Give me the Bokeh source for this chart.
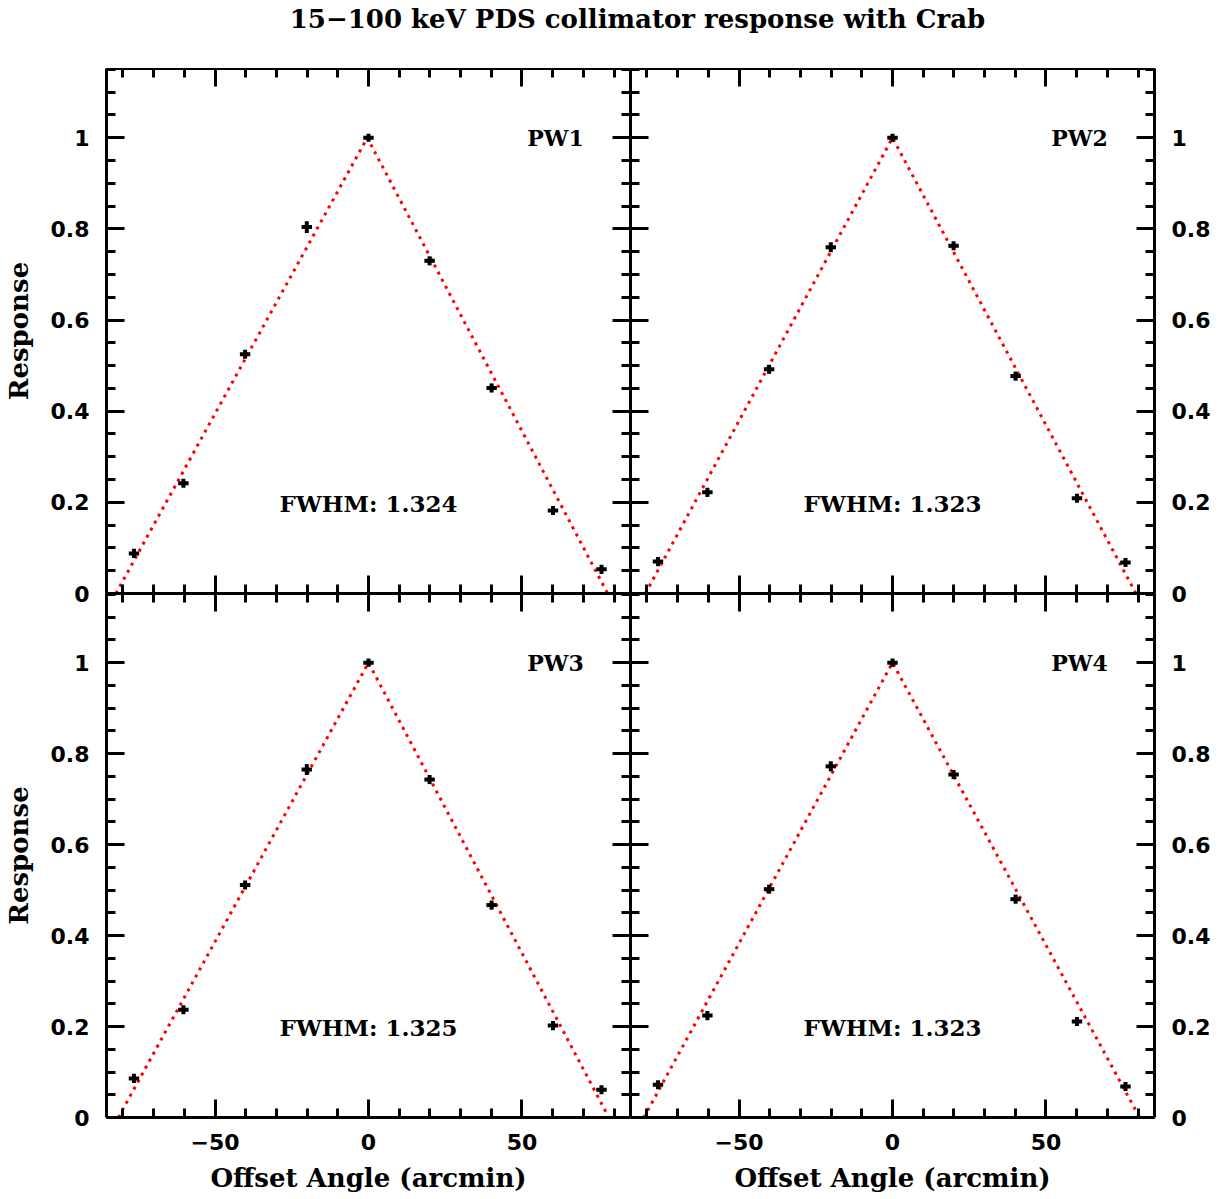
from bokeh.plotting import figure
from bokeh.models import Range1d, LinearAxis, FixedTicker, Label
from bokeh.layouts import gridplot, column
from bokeh.embed import file_html
from bokeh.resources import INLINE

# ---------------- data ----------------
offsets = [-76.4, -60.3, -40.2, -20.1, 0.0, 19.9, 40.1, 60.1, 75.9]
x_err = [1.7, 1.7, 1.7, 1.7, 1.7, 1.7, 1.7, 1.7, 1.7]

pw1_resp = [0.088, 0.242, 0.525, 0.804, 1.000, 0.730, 0.451, 0.182, 0.053]
pw2_resp = [0.070, 0.222, 0.492, 0.760, 1.000, 0.763, 0.477, 0.209, 0.068]
pw3_resp = [0.086, 0.237, 0.511, 0.765, 1.000, 0.743, 0.467, 0.202, 0.061]
pw4_resp = [0.072, 0.224, 0.502, 0.772, 1.000, 0.754, 0.480, 0.211, 0.068]

pw1_err = [0.010, 0.010, 0.010, 0.013, 0.009, 0.010, 0.010, 0.010, 0.010]
pw2_err = [0.010, 0.010, 0.010, 0.011, 0.009, 0.010, 0.010, 0.010, 0.010]
pw3_err = [0.010, 0.010, 0.010, 0.012, 0.009, 0.010, 0.010, 0.010, 0.010]
pw4_err = [0.010, 0.010, 0.010, 0.011, 0.009, 0.010, 0.010, 0.010, 0.010]

model_y = [0.0, 1.0, 0.0]
pw1_model_x = [-82.3, -0.4, 77.9]
pw2_model_x = [-80.5, 0.0, 79.3]
pw3_model_x = [-81.5, 0.0, 78.3]
pw4_model_x = [-81.0, 0.0, 80.5]

panel_names = ["PW1", "PW2", "PW3", "PW4"]
fwhm_labels = ["FWHM: 1.324", "FWHM: 1.323", "FWHM: 1.325", "FWHM: 1.323"]

x_major = [-50, 0, 50]
x_minor = [-80, -70, -60, -40, -30, -20, -10, 10, 20, 30, 40, 60, 70, 80]
y_major = [0.0, 0.2, 0.4, 0.6, 0.8, 1.0]
y_minor = [0.05, 0.1, 0.15, 0.25, 0.3, 0.35, 0.45, 0.5, 0.55, 0.65, 0.7,
           0.75, 0.85, 0.9, 0.95, 1.05, 1.1, 1.15]

title_text = "15\u2212100 keV PDS collimator response with Crab"
x_title = "Offset Angle (arcmin)"
y_title = "Response"

# ---------------- style ----------------
XR = (-85.35, 85.35)
YR = (0.0, 1.152)
FW = 524
LB, RB, BB = 99, 56, 75
OVL = 12          # overlap so that the shared "0" labels are not clipped
TITLE_H = 68
TICK_FONT = "DejaVu Sans"
TEXT_FONT = "DejaVu Serif"


def make_axis(side, show_labels, axis_title=None):
    if side in ("left", "right"):
        ticker = FixedTicker(ticks=y_major, minor_ticks=y_minor)
    else:
        ticker = FixedTicker(ticks=x_major, minor_ticks=x_minor)
    ax = LinearAxis(ticker=ticker)
    ax.axis_line_width = 3
    ax.major_tick_line_width = 3
    ax.minor_tick_line_width = 3
    ax.major_tick_in = 18
    ax.major_tick_out = 0
    ax.minor_tick_in = 9
    ax.minor_tick_out = 0
    if show_labels:
        ax.major_label_text_font = TICK_FONT
        ax.major_label_text_font_style = "bold"
        ax.major_label_text_font_size = "22px"
        ax.major_label_text_color = "black"
        ax.major_label_standoff = 17 if side in ("left", "right") else 16
        if side in ("left", "right"):
            ax.major_label_orientation = "horizontal"
    else:
        ax.major_label_text_font_size = "0px"
        ax.major_label_standoff = 0
    if axis_title:
        ax.axis_label = axis_title
        ax.axis_label_text_font = TEXT_FONT
        ax.axis_label_text_font_style = "bold"
        ax.axis_label_text_font_size = "26px"
        ax.axis_label_text_color = "black"
        ax.axis_label_standoff = 14 if side == "left" else 10
    return ax


def make_panel(row, col, resp, err, model_x, name, fwhm):
    fh = 525 if row == 0 else 524 + OVL
    p = figure(frame_width=FW, frame_height=fh,
               x_range=Range1d(*XR), y_range=Range1d(*YR),
               output_backend="svg", toolbar_location=None,
               x_axis_location=None, y_axis_location=None,
               min_border_left=LB if col == 0 else 0,
               min_border_right=RB if col == 1 else 0,
               min_border_top=0,
               min_border_bottom=BB if row == 1 else OVL)
    p.grid.visible = False
    p.outline_line_color = None
    if row == 0:
        p.background_fill_color = "white"
        p.border_fill_color = "white"
    else:
        p.background_fill_alpha = 0
        p.border_fill_alpha = 0
        p.styles = {"margin-top": "-%dpx" % OVL}

    p.add_layout(make_axis("left", col == 0, y_title if col == 0 else None), "left")
    p.add_layout(make_axis("right", col == 1), "right")
    p.add_layout(make_axis("above", False), "above")
    p.add_layout(make_axis("below", row == 1, x_title if row == 1 else None), "below")

    # model
    p.line(model_x, model_y, line_color="#ff0000", line_width=3,
           line_dash="3 5", line_cap="butt")

    # data with error bars
    x0 = [x - e for x, e in zip(offsets, x_err)]
    x1 = [x + e for x, e in zip(offsets, x_err)]
    y0 = [y - e for y, e in zip(resp, err)]
    y1 = [y + e for y, e in zip(resp, err)]
    p.segment(x0=x0, y0=resp, x1=x1, y1=resp, line_color="black", line_width=4)
    p.segment(x0=offsets, y0=y0, x1=offsets, y1=y1, line_color="black", line_width=4)

    p.add_layout(Label(x=60.9, y=1.0, text=name, text_align="center",
                       text_baseline="middle", text_font=TEXT_FONT,
                       text_font_style="bold", text_font_size="22px",
                       text_color="black"))
    p.add_layout(Label(x=0.0, y=0.198, text=fwhm, text_align="center",
                       text_baseline="middle", text_font=TEXT_FONT,
                       text_font_style="bold", text_font_size="23px",
                       text_color="black"))
    return p


p1 = make_panel(0, 0, pw1_resp, pw1_err, pw1_model_x, panel_names[0], fwhm_labels[0])
p2 = make_panel(0, 1, pw2_resp, pw2_err, pw2_model_x, panel_names[1], fwhm_labels[1])
p3 = make_panel(1, 0, pw3_resp, pw3_err, pw3_model_x, panel_names[2], fwhm_labels[2])
p4 = make_panel(1, 1, pw4_resp, pw4_err, pw4_model_x, panel_names[3], fwhm_labels[3])

TOTAL_W = LB + 2 * FW + RB
tfig = figure(frame_width=TOTAL_W, frame_height=TITLE_H,
              x_range=Range1d(0, TOTAL_W), y_range=Range1d(0, TITLE_H),
              output_backend="svg", toolbar_location=None,
              x_axis_location=None, y_axis_location=None,
              min_border=0)
tfig.grid.visible = False
tfig.outline_line_color = None
tfig.add_layout(Label(x=637, y=50, text=title_text, text_align="center",
                      text_baseline="alphabetic", text_font=TEXT_FONT,
                      text_font_style="bold", text_font_size="26px",
                      text_color="black"))

grid = gridplot([[p1, p2], [p3, p4]], toolbar_location=None)
layout = column(tfig, grid)

open("out.html", "w").write(file_html(layout, INLINE))
